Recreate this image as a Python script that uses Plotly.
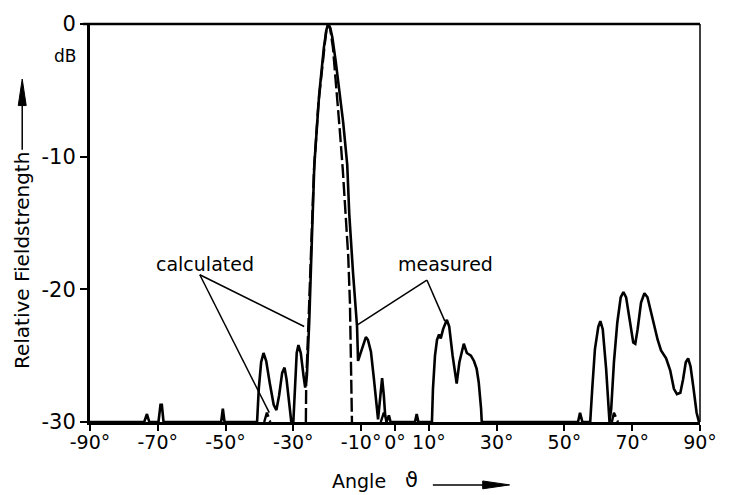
import plotly.graph_objects as go

# ---------------- data ----------------
x_tickvals = [-90, -70, -50, -30, -10, 0, 10, 30, 50, 70, 90]
x_ticktext = ["-90°", "-70°", "-50°", "-30°", "-10°", "0°", "10°", "30°", "50°", "70°", "90°"]
y_tickvals = [0, -10, -20, -30]
y_ticktext = ["0", "-10", "-20", "-30"]

# measured pattern (solid)
meas_angle = [
    -90, -74, -73.2, -72.5, -69.8, -69.2, -68.8, -68.3, -51.3, -50.8, -50.3, -40.7,
    -40.2, -39.5, -38.8, -38.0, -37.0, -35.8, -35.0, -34.2, -33.3, -32.6, -32.0, -31.2,
    -30.6, -30.0, -29.6, -29.0, -28.5, -27.8, -27.0, -26.5, -26.0, -25.3, -24.5, -23.8,
    -22.4, -21.0, -20.2, -19.7, -19.1, -18.5, -17.5, -16.5, -15.3, -14.1, -13.5, -12.4,
    -11.2, -10.9, -10.4, -9.5, -8.6, -8.0, -7.1, -6.2, -5.5, -5.0, -4.5, -3.8,
    -3.3, -2.9, -2.5, -1.8, -1.3, 5.9, 6.4, 6.9, 10.9,
    11.2, 11.8, 12.4, 13.0, 13.5, 14.2, 15.3, 16.0, 17.0, 18.2, 19.0, 20.3,
    21.2, 22.4, 23.3, 24.1, 24.7, 25.4, 25.6, 54.0, 54.6, 55.3, 57.6,
    58.2, 59.0, 60.0, 60.6, 61.3, 62.3, 63.3, 63.8, 64.6, 65.6, 66.6, 67.4,
    68.2, 69.3, 70.3, 70.9, 71.6, 72.6, 73.6, 74.5, 76.0, 77.5, 78.5, 80.0,
    81.2, 82.3, 83.2, 84.2, 85.0, 85.8, 86.5, 87.2, 88.0, 89.0, 89.7, 90,
]
meas_db = [
    -30, -30, -29.4, -30, -30, -28.7, -28.7, -30, -30, -29.0, -30, -30,
    -27.5, -25.5, -24.8, -25.4, -27.0, -28.7, -29.1, -28.0, -26.3, -25.9, -26.8, -28.8,
    -30, -30, -27.5, -24.8, -24.2, -24.8, -26.5, -27.4, -26.5, -22.4, -16.0, -10.6,
    -5.4, -1.8, -0.4, 0, -0.3, -1.0, -2.8, -4.7, -7.4, -10.6, -14.3, -18.7,
    -22.8, -25.4, -25.0, -24.2, -23.6, -23.8, -24.7, -26.8, -28.8, -29.8, -28.5, -26.7,
    -28.0, -29.5, -30, -29.5, -30, -30, -29.4, -30, -30,
    -27.5, -25.0, -23.8, -23.4, -23.7, -23.0, -22.3, -22.8, -25.0, -27.1, -25.5, -24.1,
    -24.8, -25.0, -25.4, -26.0, -27.0, -29.0, -30, -30, -29.3, -30, -30,
    -27.5, -24.5, -22.8, -22.4, -23.0, -26.0, -30, -29.0, -25.5, -22.5, -20.6, -20.2,
    -20.6, -22.5, -24.0, -24.1, -23.0, -21.0, -20.3, -20.6, -22.2, -23.8, -24.6, -25.2,
    -26.1, -27.5, -27.9, -27.8, -26.8, -25.5, -25.2, -25.8, -27.3, -29.3, -30, -30,
]

# calculated pattern (dashed); None separates pieces
calc_angle = [
    -38.6, -37.8, -36.8, None,
    -26.3, -26.2, -25.6, -24.8, -23.9, -22.6, -21.2, -20.3, -19.7, -19.1, -18.3,
    -17.3, -16.2, -15.4, -14.5, -13.8, -13.3, -13.0, -12.8, -12.7, None,
    -4.2, -3.3, -2.4, None,
    64.0, 64.6, 65.8,
]
calc_db = [
    -30, -29.3, -30, None,
    -30, -27.0, -23.0, -17.0, -11.0, -6.0, -2.3, -0.5, 0, -0.4, -1.8,
    -4.6, -8.3, -11.0, -14.3, -17.5, -21.0, -24.5, -27.5, -30, None,
    -30, -29.3, -30, None,
    -30, -29.3, -30,
]

# leader lines of the two labels (angle, dB)
calc_label = ("calculated", -56.2, -18.1)
calc_leaders = [((-57.6, -18.9), (-26.8, -22.8)), ((-57.6, -18.9), (-37.1, -29.3))]
meas_label = ("measured", 15.0, -18.1)
meas_leaders = [((9.4, -19.3), (-11.2, -22.7)), ((9.4, -19.3), (14.7, -22.4))]

# ---------------- figure ----------------
L, R, T, B = 90, 27, 17, 73
W, H = 729, 495
PW, PH = W - L - R, H - T - B


def px(p):
    return (p - L) / PW


def py(p):
    return 1 - (p - T) / PH


FONT = "DejaVu Sans"
fig = go.Figure()
fig.add_trace(go.Scatter(x=meas_angle, y=meas_db, mode="lines",
                         line=dict(color="black", width=2.6), name="measured"))
fig.add_trace(go.Scatter(x=calc_angle, y=calc_db, mode="lines", connectgaps=False,
                         line=dict(color="black", width=2.4, dash="14px,4px"), name="calculated"))

shapes = []
for (a, b) in calc_leaders + meas_leaders:
    shapes.append(dict(type="line", xref="x", yref="y", x0=a[0], y0=a[1], x1=b[0], y1=b[1],
                       line=dict(color="black", width=1.5)))
# frame: top and right edges
shapes.append(dict(type="line", xref="paper", yref="paper", x0=px(83), x1=1, y0=1, y1=1,
                   line=dict(color="black", width=2.5)))
shapes.append(dict(type="line", xref="paper", yref="paper", x0=1, x1=1, y0=0, y1=1,
                   line=dict(color="black", width=1.5)))
# y-title arrow
shapes.append(dict(type="line", xref="paper", yref="paper", x0=px(22), x1=px(22),
                   y0=py(145), y1=py(95), line=dict(color="black", width=1.5)))
shapes.append(dict(type="path", xref="paper", yref="paper",
                   path=f"M {px(18)} {py(100)} L {px(22)} {py(73)} L {px(26)} {py(100)} Z",
                   fillcolor="black", line=dict(color="black", width=1)))
# x-title arrow
shapes.append(dict(type="line", xref="paper", yref="paper", x0=px(434), x1=px(490),
                   y0=py(486), y1=py(486), line=dict(color="black", width=1.5)))
shapes.append(dict(type="path", xref="paper", yref="paper",
                   path=f"M {px(484)} {py(482)} L {px(511)} {py(486)} L {px(484)} {py(490)} Z",
                   fillcolor="black", line=dict(color="black", width=1)))


def ann(text, x, y, size, xref="paper", yref="paper", angle=0):
    return dict(text=text, x=x, y=y, xref=xref, yref=yref, showarrow=False,
                xanchor="center", yanchor="middle", textangle=angle,
                font=dict(size=size, family=FONT, color="black"))


annotations = [
    ann(calc_label[0], calc_label[1], calc_label[2], 19, "x", "y"),
    ann(meas_label[0], meas_label[1], meas_label[2], 19, "x", "y"),
    ann("dB", px(65), py(50), 17),
    ann("Relative Fieldstrength", px(22), py(258), 20, angle=-90),
    ann("Angle", px(360), py(482), 19),
    ann("ϑ", px(413), py(481), 21),
]

fig.update_layout(
    width=W, height=H,
    margin=dict(l=L, r=R, t=T, b=B),
    paper_bgcolor="white", plot_bgcolor="white",
    showlegend=False,
    shapes=shapes, annotations=annotations,
    font=dict(family=FONT, color="black", size=20),
    xaxis=dict(range=[-90, 90], tickvals=x_tickvals, ticktext=x_ticktext, tickangle=0,
               showgrid=False, zeroline=False, showline=True, linecolor="black", linewidth=3,
               ticks="outside", ticklen=6, tickwidth=2, tickcolor="black",
               ticklabelstandoff=-5,
               tickfont=dict(size=19, family=FONT)),
    yaxis=dict(range=[-30, 0], tickvals=y_tickvals, ticktext=y_ticktext,
               showgrid=False, zeroline=False, showline=True, linecolor="black", linewidth=3,
               ticks="outside", ticklen=7, tickwidth=2, tickcolor="black",
               tickfont=dict(size=21, family=FONT)),
)

fig.write_html("out.html", config={"displayModeBar": False},
               post_script="document.body.style.margin='0px';")
